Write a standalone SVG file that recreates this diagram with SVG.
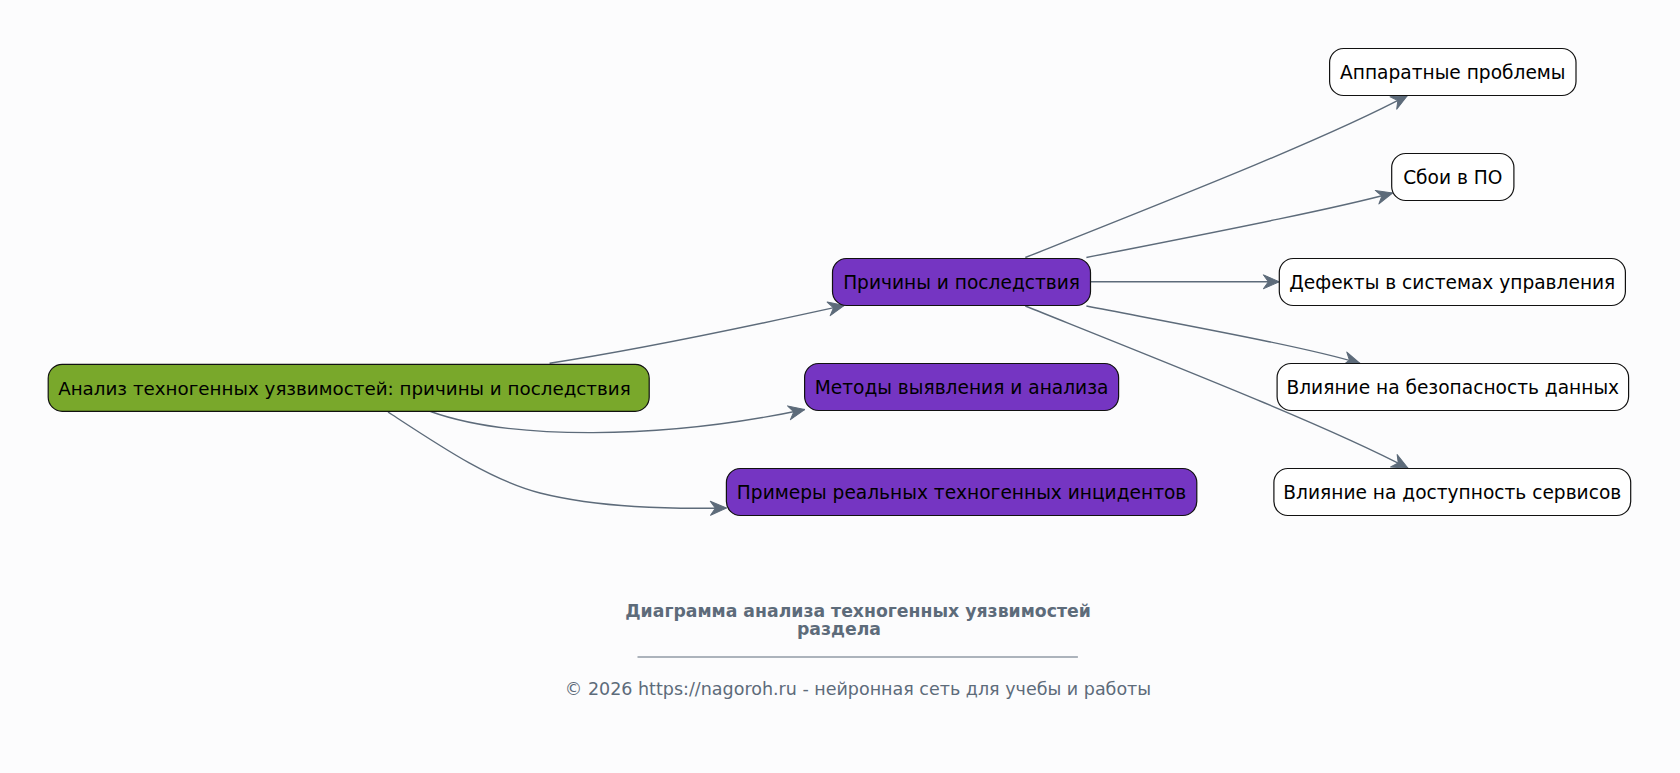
<svg xmlns="http://www.w3.org/2000/svg" width="1680" height="773" viewBox="0 0 1680 773">
<defs>
<style>
.node rect{stroke:#111;stroke-width:1.2}
.root rect{fill:#79a82b}
.mid rect{fill:#7535c2}
.leaf rect{fill:#ffffff}
.node text{font-family:"DejaVu Sans",sans-serif;font-size:18.6px;fill:#000;text-anchor:middle}
.edge{fill:none;stroke:#5d6b7a;stroke-width:1.4}
.foot{font-family:"DejaVu Sans",sans-serif;fill:#5d6b7a;text-anchor:middle}
</style>
<marker id="arr" viewBox="0 0 18 16" refX="17" refY="8" markerWidth="18" markerHeight="16" markerUnits="userSpaceOnUse" orient="auto">
<path d="M1,1 L17,8 L1,15 L6,8 Z" fill="#5d6b7a" stroke="#5d6b7a" stroke-width="1" stroke-linejoin="round"/>
</marker>
</defs>
<rect width="1680" height="773" fill="#fcfcfd"/>
<g id="edges">
<path class="edge" marker-end="url(#arr)" d="M549.6,363.2 C650,348 760,324 844.3,305.4"/>
<path class="edge" marker-end="url(#arr)" d="M430.5,411.5 C510,440 660,440 804.6,409.5"/>
<path class="edge" marker-end="url(#arr)" d="M388,412 C440,446 490,480 540,493 C600,508 670,509 726.4,508"/>
<path class="edge" marker-end="url(#arr)" d="M1025.3,257.5 C1180,196 1330,137 1407.5,95.4"/>
<path class="edge" marker-end="url(#arr)" d="M1086.4,257.5 C1200,235 1330,210 1392.5,193"/>
<path class="edge" marker-end="url(#arr)" d="M1090.7,281.8 L1279.3,281.8"/>
<path class="edge" marker-end="url(#arr)" d="M1086.4,306 C1200,328 1310,348 1360,363.5"/>
<path class="edge" marker-end="url(#arr)" d="M1025.3,306 C1180,368 1330,427 1408,468.2"/>
</g>
<g id="n_root" class="node root"><rect x="48.2" y="364.3" width="601" height="47" rx="14"/><text x="344.4" y="394.5" style="font-size:18.3px">Анализ техногенных уязвимостей: причины и последствия</text></g>
<g id="n_causes" class="node mid"><rect x="832.5" y="258.5" width="258" height="47" rx="14"/><text x="961.6" y="288.7">Причины и последствия</text></g>
<g id="n_methods" class="node mid"><rect x="804.6" y="363.5" width="314" height="47" rx="14"/><text x="961.6" y="393.7">Методы выявления и анализа</text></g>
<g id="n_examples" class="node mid"><rect x="726.4" y="468.5" width="470.4" height="47" rx="14"/><text x="961.6" y="498.7">Примеры реальных техногенных инцидентов</text></g>
<g id="n_hw" class="node leaf"><rect x="1329.6" y="48.5" width="246.4" height="47" rx="14"/><text x="1452.8" y="78.7">Аппаратные проблемы</text></g>
<g id="n_sw" class="node leaf"><rect x="1391.7" y="153.5" width="122.2" height="47" rx="14"/><text x="1452.8" y="183.7">Сбои в ПО</text></g>
<g id="n_ctrl" class="node leaf"><rect x="1279.3" y="258.5" width="346.1" height="47" rx="14"/><text x="1452.3" y="288.7">Дефекты в системах управления</text></g>
<g id="n_sec" class="node leaf"><rect x="1277.1" y="363.5" width="351.5" height="47" rx="14"/><text x="1452.8" y="393.7">Влияние на безопасность данных</text></g>
<g id="n_avail" class="node leaf"><rect x="1273.9" y="468.5" width="356.8" height="47" rx="14"/><text x="1452.3" y="498.7">Влияние на доступность сервисов</text></g>
<g id="footer">
<text class="foot" x="858" y="616.5" font-size="17.3" font-weight="bold">Диаграмма анализа техногенных уязвимостей</text>
<text class="foot" x="839" y="635" font-size="17.3" font-weight="bold">раздела</text>
<line x1="637.5" y1="657" x2="1077.9" y2="657" stroke="#5d6b7a" stroke-width="1"/>
<text class="foot" x="858" y="694.5" font-size="17.5">© 2026 https://nagoroh.ru - нейронная сеть для учебы и работы</text>
</g>
</svg>
